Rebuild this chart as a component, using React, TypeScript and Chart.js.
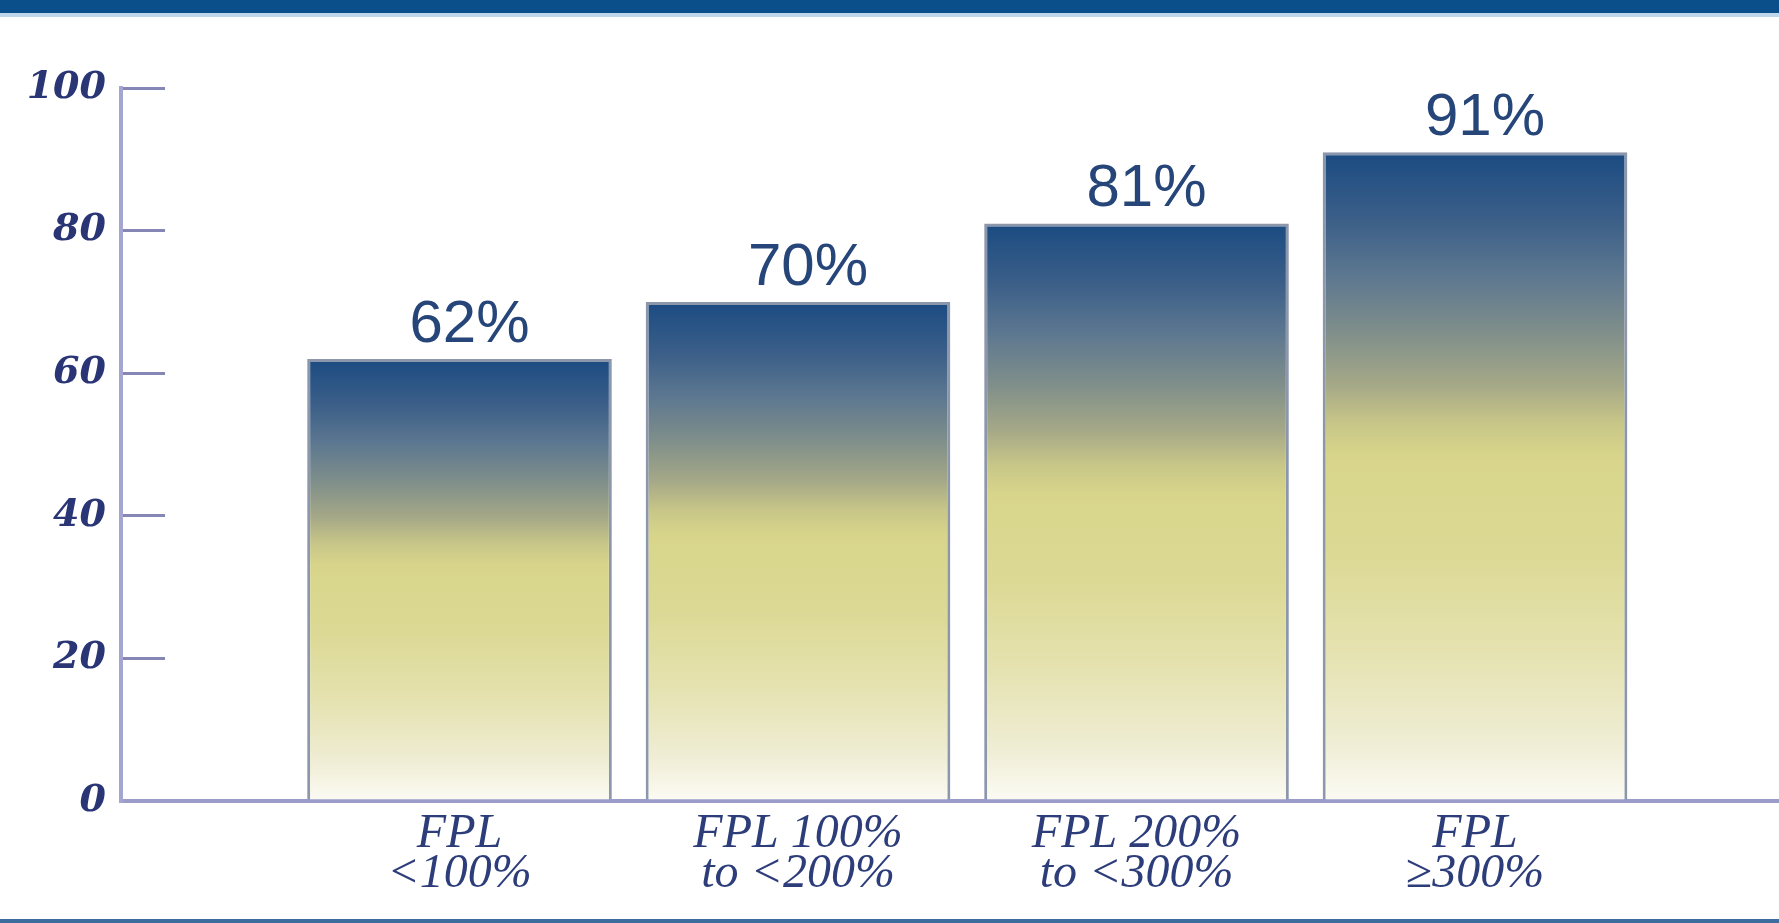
import React, { useEffect, useRef } from "react";
import { Chart, registerables } from "chart.js";

Chart.register(...registerables);

const categories: string[][] = [
  ["FPL", "<100%"],
  ["FPL 100%", "to <200%"],
  ["FPL 200%", "to <300%"],
  ["FPL", "≥300%"],
];
const values: number[] = [62, 70, 81, 91];
const yTickValues: number[] = [0, 20, 40, 60, 80, 100];

const W = 1779;
const H = 923;

const valueLabels = {
  id: "valueLabels",
  afterDatasetsDraw(chart: any) {
    const ctx = chart.ctx;
    const meta = chart.getDatasetMeta(0);
    ctx.save();
    ctx.font = "60px 'Liberation Sans', Arial, sans-serif";
    ctx.fillStyle = "#26467a";
    ctx.textAlign = "center";
    ctx.textBaseline = "alphabetic";
    meta.data.forEach((bar: any, i: number) => {
      ctx.fillText(values[i] + "%", bar.x + 10, bar.y - 17);
    });
    ctx.restore();
  },
};

function barGradient(c: any) {
  const chart = c.chart;
  const y = chart.scales && chart.scales.y;
  if (!y || c.type !== "data" || !c.parsed) return "#dcd88c";
  const top = y.getPixelForValue(c.parsed.y);
  const bottom = y.getPixelForValue(0);
  if (!isFinite(top) || !isFinite(bottom)) return "#dcd88c";
  const g = chart.ctx.createLinearGradient(0, top, 0, bottom);
  g.addColorStop(0, "#1b4b82");
  g.addColorStop(0.1, "#3a5e88");
  g.addColorStop(0.19, "#5c7790");
  g.addColorStop(0.28, "#808f8a");
  g.addColorStop(0.36, "#a6a987");
  g.addColorStop(0.42, "#c9c788");
  g.addColorStop(0.47, "#d8d58b");
  g.addColorStop(0.62, "#dcd995");
  g.addColorStop(0.77, "#e5e2b0");
  g.addColorStop(0.91, "#efedd4");
  g.addColorStop(1, "#fcfbf4");
  return g;
}

export default function App() {
  const ref = useRef<HTMLCanvasElement | null>(null);

  useEffect(() => {
    if (!ref.current) return;
    const chart = new Chart(ref.current, {
      type: "bar",
      data: {
        datasets: [
          {
            data: values.map((v, i) => ({ x: i + 1, y: v })),
            backgroundColor: barGradient as any,
            borderColor: "#8d97ab",
            borderWidth: 3,
            barPercentage: 0.9,
            categoryPercentage: 1,
          },
        ],
      },
      options: {
        responsive: false,
        animation: false,
        maintainAspectRatio: false,
        layout: { padding: { top: 88, left: 0, right: 0, bottom: 0 } },
        plugins: {
          legend: { display: false },
          tooltip: { enabled: false },
        },
        scales: {
          x: {
            type: "linear",
            offset: false,
            min: 0,
            max: 4.898,
            afterBuildTicks: (scale: any) => {
              scale.ticks = categories.map((_, i) => ({ value: i + 1 }));
            },
            afterFit: (scale: any) => {
              scale.height = 122;
            },
            grid: { display: false, drawTicks: false },
            border: { display: true, color: "#9c9cca", width: 4 },
            ticks: {
              autoSkip: false,
              maxRotation: 0,
              padding: 13,
              color: "#2c3d7a",
              font: {
                family: "'Liberation Serif', 'Times New Roman', serif",
                size: 48,
                style: "italic",
                lineHeight: 0.84,
              },
              callback: (_v: any, i: number) => categories[i],
            },
          },
          y: {
            type: "linear",
            min: 0,
            max: 100,
            afterBuildTicks: (scale: any) => {
              scale.ticks = yTickValues.map((v) => ({ value: v }));
            },
            afterFit: (scale: any) => {
              scale.width = 121;
            },
            grid: {
              drawOnChartArea: false,
              drawTicks: true,
              tickLength: -44,
              color: "#8686b6",
              lineWidth: 3,
            },
            border: { display: true, color: "#a5a5d2", width: 4 },
            ticks: {
              padding: 59,
              color: "#2a3575",
              font: {
                family: "'DejaVu Serif', serif",
                size: 38,
                style: "italic",
                weight: "bold",
              },
            },
          },
        },
      },
      plugins: [valueLabels],
    });
    return () => chart.destroy();
  }, []);

  return (
    <div
      style={{
        position: "fixed",
        left: 0,
        top: 0,
        width: W,
        height: H,
        background: "#ffffff",
        overflow: "hidden",
      }}
    >
      <canvas ref={ref} width={W} height={H} style={{ position: "absolute", left: 0, top: 0 }} />
      <div style={{ position: "absolute", left: 0, top: 0, width: W, height: 13, background: "#0b4f8a" }} />
      <div style={{ position: "absolute", left: 0, top: 13, width: W, height: 4, background: "#bfd7ec" }} />
      <div style={{ position: "absolute", left: 0, top: 919, width: W, height: 4, background: "#3d6d9e" }} />
    </div>
  );
}
